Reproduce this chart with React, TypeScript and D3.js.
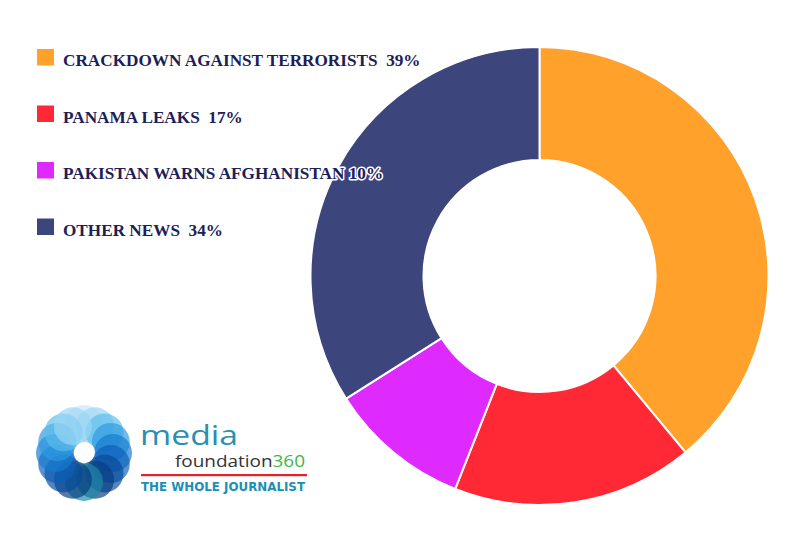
import React from "react";
import * as d3 from "d3";

const categories = [
  "CRACKDOWN AGAINST TERRORISTS",
  "PANAMA LEAKS",
  "PAKISTAN WARNS AFGHANISTAN",
  "OTHER NEWS",
];
const values = [39, 17, 10, 34];
const legendSep = ["  ", "  ", " ", "  "];
const colors = ["#FFA12B", "#FF2835", "#DE2AFF", "#3C457C"];

const W = 787;
const H = 535;
const cx = 539.5;
const cy = 276;
const outerR = 229;
const innerR = 116;

// logo circle palette (by angle from top, clockwise)
const logoColors = [
  "#c8e8f8", "#9bd6f3", "#5cbcec", "#2c9ae0", "#147ad0", "#0c5fb8",
  "#084a9a", "#073c80", "#1a8aa8", "#073c80", "#084a9a", "#0c5fb8",
  "#147ad0", "#2c9ae0", "#5cbcec", "#9bd6f3",
];

export default function App() {
  const pie = d3.pie<number>().value((d) => d).sort(null);
  const arcs = pie(values);
  const arc = d3.arc<d3.PieArcDatum<number>>().innerRadius(innerR).outerRadius(outerR);

  const legendX = 37;
  const legendY0 = 49;
  const legendStep = 56.5;

  const logoCx = 84;
  const logoCy = 453;
  const nCircles = logoColors.length;

  return (
    <svg
      width={W}
      height={H}
      style={{ position: "absolute", left: 0, top: 0, background: "#fff" }}
    >
      <rect width={W} height={H} fill="#fff" />
      <g transform={`translate(${cx},${cy})`}>
        {arcs.map((a, i) => (
          <path key={i} d={arc(a) || ""} fill={colors[i]} stroke="#fff" strokeWidth={2} />
        ))}
      </g>
      <g>
        {categories.map((c, i) => {
          const y = legendY0 + i * legendStep;
          return (
            <g key={c}>
              <rect x={legendX} y={y} width={17} height={16.5} fill={colors[i]} />
              <text
                x={63}
                y={y + 17}
                fontFamily="'Liberation Serif', 'DejaVu Serif', serif"
                fontWeight="bold"
                fontSize={17.2}
                fill="#1c2057"
                stroke="#fff"
                strokeWidth={3}
                strokeLinejoin="round"
                style={{ paintOrder: "stroke", whiteSpace: "pre" }}
              >
                {`${c}${legendSep[i]}${values[i]}%`}
              </text>
            </g>
          );
        })}
      </g>
      <g>
        {logoColors.map((col, i) => {
          const ang = (i / nCircles) * 2 * Math.PI;
          const x = logoCx + Math.sin(ang) * 29;
          const y = logoCy - Math.cos(ang) * 29;
          return <circle key={i} cx={x} cy={y} r={19} fill={col} opacity={0.68} />;
        })}
        <circle cx={logoCx + 1} cy={logoCy - 1} r={10} fill="#fff" />
        <text
          x={140}
          y={445}
          fontFamily="'Open Sans', 'Noto Sans', sans-serif"
          fontSize={27}
          fill="#2a8fb2"
          textLength={98}
          lengthAdjust="spacingAndGlyphs"
        >
          media
        </text>
        <text
          x={175}
          y={466.5}
          fontFamily="'Open Sans', 'Noto Sans', sans-serif"
          fontSize={16}
          fill="#333"
          textLength={130}
          lengthAdjust="spacingAndGlyphs"
        >
          foundation<tspan fill="#3cb54a">360</tspan>
        </text>
        <rect x={141} y={474} width={166} height={2.2} fill="#e8202a" />
        <text
          x={141}
          y={491}
          fontFamily="'DejaVu Sans', sans-serif"
          fontWeight="bold"
          fontSize={13}
          fill="#1b8fb5"
          textLength={164}
          lengthAdjust="spacingAndGlyphs"
        >
          THE WHOLE JOURNALIST
        </text>
      </g>
    </svg>
  );
}
